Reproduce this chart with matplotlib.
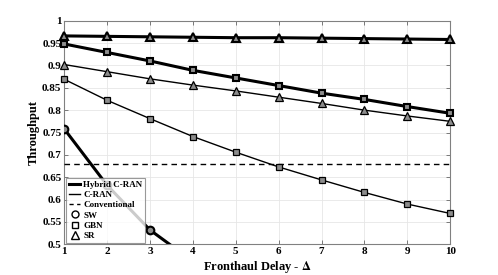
import matplotlib
matplotlib.use("Agg")
import matplotlib.pyplot as plt
from matplotlib.lines import Line2D

plt.rcParams['font.family'] = ['Liberation Serif', 'DejaVu Serif']
plt.rcParams['font.weight'] = 'bold'
plt.rcParams['mathtext.fontset'] = 'stix'

delay = [1, 2, 3, 4, 5, 6, 7, 8, 9, 10]
hybrid_sr = [0.966, 0.965, 0.964, 0.963, 0.962, 0.962, 0.961, 0.960, 0.959, 0.958]
hybrid_gbn = [0.948, 0.929, 0.910, 0.889, 0.872, 0.855, 0.838, 0.824, 0.808, 0.793]
cran_sr = [0.902, 0.886, 0.870, 0.856, 0.843, 0.829, 0.815, 0.800, 0.787, 0.775]
cran_gbn = [0.869, 0.822, 0.781, 0.741, 0.706, 0.673, 0.644, 0.616, 0.590, 0.569]
hybrid_sw_x = [1, 2, 3, 4]
hybrid_sw = [0.758, 0.632, 0.532, 0.462]
conventional = 0.68

fig = plt.figure(figsize=(4.98, 2.75), dpi=100)
ax = fig.add_axes([0.129, 0.1116, 0.775, 0.8131])

mfc = '0.55'
thick = 2.2
thin = 1.0
ax.plot(delay, hybrid_sr, color='black', lw=thick, marker='^', ms=5.5, mfc=mfc, mec='black', mew=1.5, clip_on=False, zorder=5)
ax.plot(delay, hybrid_gbn, color='black', lw=thick, marker='s', ms=4.5, mfc=mfc, mec='black', mew=1.5, clip_on=False, zorder=5)
ax.plot(delay, cran_sr, color='black', lw=thin, marker='^', ms=5.5, mfc=mfc, mec='black', mew=0.9, clip_on=False, zorder=5)
ax.plot(delay, cran_gbn, color='black', lw=thin, marker='s', ms=4.5, mfc=mfc, mec='black', mew=0.9, clip_on=False, zorder=5)
ax.plot(hybrid_sw_x, hybrid_sw, color='black', lw=thick, marker='o', ms=5.5, mfc=mfc, mec='black', mew=1.5, zorder=5)
ax.axhline(conventional, color='black', lw=1.0, ls=(0, (4, 3)), zorder=4)

ax.set_xlim(1, 10)
ax.set_ylim(0.5, 1.0)
ax.set_xticks(delay)
ax.set_yticks([0.5, 0.55, 0.6, 0.65, 0.7, 0.75, 0.8, 0.85, 0.9, 0.95, 1.0])
ax.set_yticklabels(['0.5', '0.55', '0.6', '0.65', '0.7', '0.75', '0.8', '0.85', '0.9', '0.95', '1'])
ax.grid(True, color='0.9', lw=0.6)
ax.tick_params(axis='both', direction='in', top=True, right=True, labelsize=8, length=3, width=0.6, color='0.4', pad=2)
for lab in ax.get_xticklabels() + ax.get_yticklabels():
    lab.set_fontweight('bold')
for s in ax.spines.values():
    s.set_color('0.5')
    s.set_linewidth(0.8)

ax.set_xlabel('Fronthaul Delay - $\\Delta$', fontsize=9, fontweight='bold', labelpad=2)
ax.set_ylabel('Throughput', fontsize=9, fontweight='bold', labelpad=2)

handles = [
    Line2D([], [], color='black', lw=thick),
    Line2D([], [], color='black', lw=thin),
    Line2D([], [], color='black', lw=1.0, ls=(0, (3, 2.5))),
    Line2D([], [], color='black', lw=0, marker='o', ms=5, mfc='none', mec='black', mew=1.0),
    Line2D([], [], color='black', lw=0, marker='s', ms=4.5, mfc='none', mec='black', mew=1.0),
    Line2D([], [], color='black', lw=0, marker='^', ms=5.5, mfc='none', mec='black', mew=1.0),
]
labels = ['Hybrid C-RAN', 'C-RAN', 'Conventional', 'SW', 'GBN', 'SR']
leg = ax.legend(handles, labels, loc='lower left',
                prop={'weight': 'bold', 'size': 6.5},
                frameon=True, fancybox=False, borderaxespad=0.2, handlelength=1.3,
                handletextpad=0.3, labelspacing=0.2, borderpad=0.3)
leg.get_frame().set_edgecolor('0.5')
leg.get_frame().set_linewidth(0.8)
leg.set_zorder(10)

fig.savefig('out.png', dpi=100)
